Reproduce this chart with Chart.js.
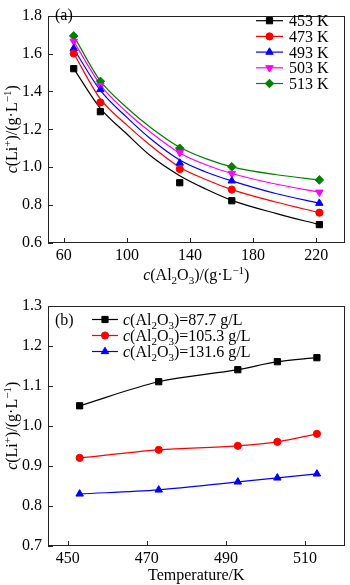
<!DOCTYPE html>
<html><head><meta charset="utf-8">
<script src="https://cdn.jsdelivr.net/npm/chart.js@4.4.1/dist/chart.umd.min.js"></script>
<style>
html,body{margin:0;padding:0;background:#fff;}
#wrap{position:relative;width:350px;height:585px;overflow:hidden;}
.box{position:absolute;left:0;width:350px;}
</style></head><body>
<div id="wrap">
<div class="box" style="top:0;height:290px"><canvas id="c1" width="350" height="290"></canvas></div>
<div class="box" style="top:290px;height:295px"><canvas id="c2" width="350" height="295"></canvas></div>
</div>
<script>
// ---------- data: panel (a) ----------
const aAl2O3 = [66.3, 83.2, 133.5, 166.5, 222];
const aSeriesNames = ['453 K', '473 K', '493 K', '503 K', '513 K'];
const aLi453 = [1.520, 1.293, 0.918, 0.823, 0.697];
const aLi473 = [1.600, 1.342, 0.990, 0.882, 0.760];
const aLi493 = [1.627, 1.410, 1.022, 0.928, 0.810];
const aLi503 = [1.664, 1.430, 1.077, 0.967, 0.868];
const aLi513 = [1.693, 1.453, 1.100, 1.002, 0.933];
// fitted curves
const aFitX   = [66.3, 83.2, 100, 115, 133.5, 150, 166.5, 195, 222];
const aFit453 = [1.520, 1.310, 1.175, 1.060, 0.955, 0.885, 0.825, 0.755, 0.697];
const aFit473 = [1.600, 1.360, 1.222, 1.115, 1.000, 0.935, 0.882, 0.815, 0.760];
const aFit493 = [1.625, 1.405, 1.263, 1.150, 1.038, 0.975, 0.928, 0.860, 0.810];
const aFit503 = [1.664, 1.435, 1.290, 1.185, 1.075, 1.013, 0.967, 0.910, 0.868];
const aFit513 = [1.693, 1.455, 1.314, 1.210, 1.105, 1.045, 1.002, 0.960, 0.933];
const aXTicks = [60, 100, 140, 180, 220];
const aYTicks = [0.6, 0.8, 1.0, 1.2, 1.4, 1.6, 1.8];

// ---------- data: panel (b) ----------
const bTemp = [453, 473, 493, 503, 513];
const bSeriesConc = ['87.7', '105.3', '131.6'];
const bLi877  = [1.05, 1.11, 1.14, 1.16, 1.17];
const bLi1053 = [0.92, 0.94, 0.95, 0.96, 0.98];
const bLi1316 = [0.83, 0.84, 0.86, 0.87, 0.88];
const bXTicks = [450, 470, 490, 510];
const bYTicks = [0.7, 0.8, 0.9, 1.0, 1.1, 1.2, 1.3];

// ---------- styling ----------
const FONT = '"Liberation Serif", "Times New Roman", serif';
const COLORS = ['#000000', '#ff0000', '#0000ff', '#ff00ff', '#008000'];
const MARKERS = [
  {style: 'rect', r: 4.4, rot: 0},
  {style: 'circle', r: 3.6, rot: 0},
  {style: 'triangle', r: 4.3, rot: 0},
  {style: 'triangle', r: 4.3, rot: 180},
  {style: 'rectRot', r: 4.3, rot: 0}
];

function pts(xs, ys) { return xs.map((x, i) => ({x: x, y: ys[i]})); }

function drawMarker(ctx, m, color, x, y) {
  ctx.save();
  ctx.fillStyle = color; ctx.strokeStyle = color; ctx.lineWidth = 1;
  ctx.translate(x, y);
  if (m.rot) ctx.rotate(m.rot * Math.PI / 180);
  const r = m.r;
  ctx.beginPath();
  if (m.style === 'rect') { const s = r * Math.SQRT1_2; ctx.rect(-s, -s, 2 * s, 2 * s); }
  else if (m.style === 'circle') { ctx.arc(0, 0, r, 0, Math.PI * 2); }
  else if (m.style === 'triangle') {
    ctx.moveTo(0, -r); ctx.lineTo(r * 0.866, r * 0.5); ctx.lineTo(-r * 0.866, r * 0.5); ctx.closePath();
  } else if (m.style === 'rectRot') {
    ctx.moveTo(0, -r); ctx.lineTo(r, 0); ctx.lineTo(0, r); ctx.lineTo(-r, 0); ctx.closePath();
  }
  ctx.fill(); ctx.stroke();
  ctx.restore();
}

function segFont(seg, size) {
  const s = (seg.sub || seg.sup) ? Math.round(size * 0.68) : size;
  return (seg.i ? 'italic ' : '') + s + 'px ' + FONT;
}
function richWidth(ctx, segs, size) {
  let w = 0;
  segs.forEach(seg => { ctx.font = segFont(seg, size); w += ctx.measureText(seg.t).width; });
  return w;
}
function drawRich(ctx, segs, x, y, size, align) {
  const w = richWidth(ctx, segs, size);
  let cx = align === 'center' ? x - w / 2 : (align === 'right' ? x - w : x);
  ctx.textAlign = 'left'; ctx.textBaseline = 'alphabetic'; ctx.fillStyle = '#000';
  segs.forEach(seg => {
    ctx.font = segFont(seg, size);
    const dy = seg.sub ? size * 0.22 : (seg.sup ? -size * 0.36 : 0);
    ctx.fillText(seg.t, cx, y + dy);
    cx += ctx.measureText(seg.t).width;
  });
}

const TITLE_LI = [{t: 'c', i: 1}, {t: '(Li'}, {t: '+', sup: 1}, {t: ')/(g·L'}, {t: '−1', sup: 1}, {t: ')'}];
const TITLE_AL = [{t: 'c', i: 1}, {t: '(Al'}, {t: '2', sub: 1}, {t: 'O'}, {t: '3', sub: 1}, {t: ')/(g·L'}, {t: '−1', sup: 1}, {t: ')'}];
function concLabel(v) { return [{t: 'c', i: 1}, {t: '(Al'}, {t: '2', sub: 1}, {t: 'O'}, {t: '3', sub: 1}, {t: ')=' + v + ' g/L'}]; }

// decoration plugin: frame, inward ticks, titles, legend, panel label
const decor = {
  id: 'decor',
  afterDraw(chart, args, o) {
    const ctx = chart.ctx, a = chart.chartArea;
    const xs = chart.scales.x, ys = chart.scales.y;
    ctx.save();
    ctx.strokeStyle = '#222'; ctx.lineWidth = 1;
    ctx.strokeRect(Math.round(a.left) + 0.5, Math.round(a.top) + 0.5,
                   Math.round(a.right - a.left) - 1, Math.round(a.bottom - a.top) - 1);
    ctx.beginPath();
    o.yTicks.forEach(v => { const y = Math.round(ys.getPixelForValue(v)) + 0.5; ctx.moveTo(a.left, y); ctx.lineTo(a.left + 5, y); });
    o.xTicks.forEach(v => { const x = Math.round(xs.getPixelForValue(v)) + 0.5; ctx.moveTo(x, a.bottom); ctx.lineTo(x, a.bottom - 5); });
    ctx.stroke();
    // x title
    drawRich(ctx, o.xTitle, (a.left + a.right) / 2, o.xTitleY, 16, 'center');
    // y title
    ctx.save();
    ctx.translate(17, (a.top + a.bottom) / 2);
    ctx.rotate(-Math.PI / 2);
    drawRich(ctx, TITLE_LI, 0, 0, 16, 'center');
    ctx.restore();
    // panel label
    ctx.font = '16px ' + FONT; ctx.fillStyle = '#000'; ctx.textAlign = 'left'; ctx.textBaseline = 'alphabetic';
    ctx.fillText(o.panel, 55, o.panelY);
    // legend
    o.legend.forEach((item, i) => {
      const y = o.legY + i * o.legStep;
      ctx.strokeStyle = item.color; ctx.lineWidth = 1.2;
      ctx.beginPath(); ctx.moveTo(o.legX1, y); ctx.lineTo(o.legX2, y); ctx.stroke();
      drawMarker(ctx, item.marker, item.color, (o.legX1 + o.legX2) / 2, y);
      drawRich(ctx, item.text, o.legTextX, y + 5.5, 16, 'left');
    });
    ctx.restore();
  }
};

function axisOpts(min, max, ticks, fmt, isX, size) {
  const o = {
    type: 'linear', min: min, max: max,
    grid: {display: false, drawTicks: false}, border: {display: false},
    ticks: {color: '#000', font: {family: FONT, size: 16}, autoSkip: false, maxRotation: 0,
            padding: isX ? 3 : 6, callback: fmt},
    afterBuildTicks: s => { s.ticks = ticks.map(v => ({value: v})); }
  };
  if (isX) o.afterFit = s => { s.height = size; };
  else o.afterFit = s => { s.width = size; };
  return o;
}

// ---------- chart (a) ----------
const aSeries = [aLi453, aLi473, aLi493, aLi503, aLi513];
const aFits = [aFit453, aFit473, aFit493, aFit503, aFit513];
const aDatasets = [];
aSeries.forEach((ys, i) => {
  aDatasets.push({type: 'scatter', data: pts(aAl2O3, ys), showLine: false, order: 1,
    backgroundColor: COLORS[i], borderColor: COLORS[i], borderWidth: 1,
    pointStyle: MARKERS[i].style, pointRadius: MARKERS[i].r, pointRotation: MARKERS[i].rot});
});
aFits.forEach((ys, i) => {
  aDatasets.push({type: 'line', data: pts(aFitX, ys), order: 2,
    borderColor: COLORS[i], borderWidth: 1.2, pointRadius: 0, fill: false,
    cubicInterpolationMode: 'monotone'});
});

new Chart(document.getElementById('c1'), {
  type: 'scatter',
  data: {datasets: aDatasets},
  options: {
    responsive: false, animation: false, events: [],
    layout: {padding: {left: 0, right: 2, top: 3, bottom: 0}},
    plugins: {legend: {display: false}, tooltip: {enabled: false},
      decor: {xTicks: aXTicks, yTicks: aYTicks, xTitle: TITLE_AL, xTitleY: 280, panel: '(a)', panelY: 20,
        legend: aSeriesNames.map((n, i) => ({color: COLORS[i], marker: MARKERS[i], text: [{t: n}]})),
        legX1: 256, legX2: 283, legTextX: 289, legY: 20.7, legStep: 15.7}},
    scales: {
      x: axisOpts(50, 238, aXTicks, v => String(v), true, 47),
      y: axisOpts(0.6, 1.8, aYTicks, v => v.toFixed(1), false, 48)
    }
  },
  plugins: [decor]
});

// ---------- chart (b) ----------
const bSeries = [bLi877, bLi1053, bLi1316];
const bDatasets = bSeries.map((ys, i) => ({
  type: 'line', data: pts(bTemp, ys), showLine: true,
  borderColor: COLORS[i], backgroundColor: COLORS[i], borderWidth: 1.2, fill: false,
  cubicInterpolationMode: 'monotone',
  pointStyle: MARKERS[i].style, pointRadius: MARKERS[i].r, pointRotation: MARKERS[i].rot, pointBorderWidth: 1
}));

new Chart(document.getElementById('c2'), {
  type: 'scatter',
  data: {datasets: bDatasets},
  options: {
    responsive: false, animation: false, events: [],
    layout: {padding: {left: 0, right: 2, top: 15, bottom: 0}},
    plugins: {legend: {display: false}, tooltip: {enabled: false},
      decor: {xTicks: bXTicks, yTicks: bYTicks, xTitle: [{t: 'Temperature/K'}], xTitleY: 290, panel: '(b)', panelY: 35,
        legend: bSeriesConc.map((n, i) => ({color: COLORS[i], marker: MARKERS[i], text: concLabel(n)})),
        legX1: 92, legX2: 118, legTextX: 123, legY: 29.5, legStep: 16}},
    scales: {
      x: axisOpts(445, 520, bXTicks, v => String(v), true, 39),
      y: axisOpts(0.7, 1.3, bYTicks, v => v.toFixed(1), false, 48)
    }
  },
  plugins: [decor]
});
</script>
</body></html>
